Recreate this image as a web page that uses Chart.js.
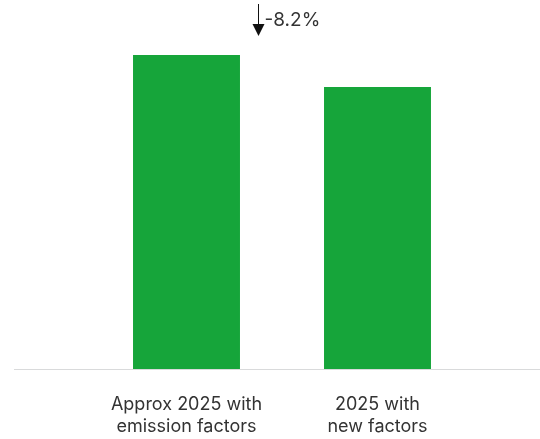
<!DOCTYPE html>
<html>
<head>
<meta charset="utf-8">
<script src="https://cdn.jsdelivr.net/npm/chart.js@4"></script>
<style>
  html, body { margin: 0; padding: 0; background: #fff; }
  #wrap { width: 540px; height: 439px; }
</style>
</head>
<body>
<div id="wrap"><canvas id="chart"></canvas></div>
<script>
// Chart data
const categories = [['Approx 2025 with', 'emission factors'], ['2025 with', 'new factors']];
const emissions = [100, 89.8];
const changeLabel = '-8.2%';

// baseline across the whole width + the change arrow
const extras = {
    id: 'extras',
    afterDraw(chart) {
        const ctx = chart.ctx;
        const area = chart.chartArea;
        ctx.save();
        ctx.strokeStyle = '#d9dadb';
        ctx.lineWidth = 1;
        ctx.beginPath();
        ctx.moveTo(14, area.bottom + 0.5);
        ctx.lineTo(540, area.bottom + 0.5);
        ctx.stroke();

        const x = Math.round(chart.scales.x.getPixelForValue(0.375)) + 0.5;
        ctx.strokeStyle = '#111';
        ctx.beginPath();
        ctx.moveTo(x, 4);
        ctx.lineTo(x, 26);
        ctx.stroke();
        ctx.fillStyle = '#111';
        ctx.beginPath();
        ctx.moveTo(x - 6, 24);
        ctx.lineTo(x + 6, 24);
        ctx.lineTo(x, 36);
        ctx.closePath();
        ctx.fill();

        ctx.fillStyle = '#333';
        ctx.font = '19px Inter';
        ctx.textBaseline = 'middle';
        ctx.fillText(changeLabel, x + 6, 20);
        ctx.restore();
    }
};

new Chart(document.getElementById('chart'), {
    type: 'bar',
    data: {
        labels: categories,
        datasets: [{
            data: emissions,
            backgroundColor: '#16a53a',
            barPercentage: 1,
            categoryPercentage: 0.56
        }]
    },
    options: {
        responsive: true,
        maintainAspectRatio: false,
        animation: false,
        layout: { padding: { left: 91, right: 67, top: 55, bottom: 0 } },
        plugins: { legend: { display: false }, tooltip: { enabled: false } },
        scales: {
            x: {
                grid: { display: false, drawTicks: false },
                border: { display: false },
                ticks: {
                    color: '#333',
                    font: { family: 'Inter', size: 18, lineHeight: 1.25 },
                    padding: 24
                },
                afterFit(scale) { scale.height = 70; }
            },
            y: {
                display: false,
                min: 0,
                max: 100
            }
        }
    },
    plugins: [extras]
});
</script>
</body>
</html>
